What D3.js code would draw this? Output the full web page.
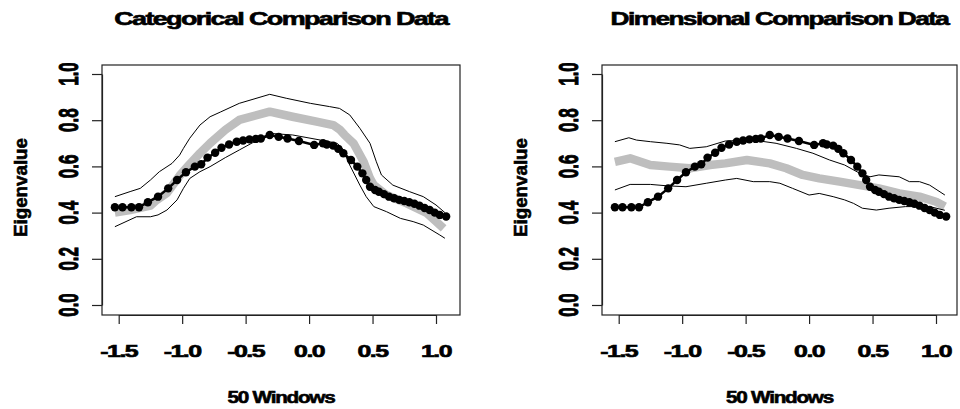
<!DOCTYPE html>
<html>
<head>
<meta charset="utf-8">
<script src="https://cdn.jsdelivr.net/npm/d3@7"></script>
<style>
body{margin:0;background:#fff;}
svg text{font-family:"Liberation Sans",Arial,sans-serif;font-weight:bold;fill:#000;stroke:#000;stroke-width:0.6px;}
</style>
</head>
<body>
<svg id="chart" width="960" height="409"></svg>
<script>
// 50 windows: x position and observed eigenvalue (same in both panels)
var windowX = [-1.53,-1.47,-1.40,-1.34,-1.27,-1.19,-1.11,-1.04,-0.97,-0.90,
    -0.85,-0.80,-0.74,-0.69,-0.63,-0.57,-0.52,-0.47,-0.42,-0.38,
    -0.31,-0.24,-0.17,-0.08,0.04,0.11,0.14,0.19,0.23,0.27,
    0.33,0.38,0.42,0.45,0.48,0.52,0.55,0.59,0.63,0.67,
    0.71,0.75,0.79,0.83,0.87,0.91,0.95,0.99,1.03,1.08];
var observed = [0.423,0.423,0.423,0.423,0.445,0.469,0.505,0.541,0.575,0.599,
    0.609,0.638,0.659,0.681,0.695,0.707,0.712,0.717,0.719,0.721,
    0.736,0.728,0.721,0.710,0.693,0.700,0.695,0.690,0.676,0.657,
    0.628,0.599,0.570,0.541,0.512,0.498,0.490,0.480,0.469,0.462,
    0.455,0.450,0.445,0.438,0.430,0.420,0.411,0.400,0.390,0.383];

// categorical comparison: mean (grey band) and upper / lower bounds
var catMean = [[-1.53,0.400],[-1.41,0.411],[-1.25,0.430],[-1.20,0.455],[-1.12,0.485],[-1.02,0.560],
    [-0.94,0.610],[-0.86,0.657],[-0.78,0.700],[-0.66,0.758],[-0.55,0.801],[-0.31,0.837],
    [-0.13,0.815],[0.06,0.794],[0.19,0.779],[0.24,0.760],[0.28,0.736],[0.35,0.700],
    [0.43,0.620],[0.48,0.548],[0.51,0.519],[0.61,0.476],[0.77,0.440],[0.93,0.397],[1.06,0.332]];
var catUpper = [[-1.53,0.469],[-1.41,0.491],[-1.33,0.505],[-1.25,0.541],[-1.18,0.577],[-1.08,0.613],
    [-1.02,0.649],[-0.99,0.678],[-0.94,0.722],[-0.86,0.779],[-0.78,0.815],[-0.70,0.835],
    [-0.55,0.873],[-0.31,0.912],[-0.18,0.895],[0.01,0.873],[0.16,0.859],[0.24,0.851],
    [0.32,0.823],[0.40,0.765],[0.48,0.700],[0.53,0.620],[0.57,0.563],[0.66,0.519],
    [0.79,0.491],[0.90,0.469],[1.00,0.433],[1.07,0.400]];
var catLower = [[-1.53,0.339],[-1.36,0.382],[-1.25,0.382],[-1.19,0.390],[-1.12,0.411],[-1.04,0.455],
    [-0.99,0.505],[-0.94,0.548],[-0.86,0.577],[-0.78,0.599],[-0.66,0.638],[-0.55,0.671],
    [-0.31,0.743],[-0.13,0.736],[0.09,0.714],[0.22,0.700],[0.26,0.680],[0.32,0.606],
    [0.40,0.519],[0.45,0.469],[0.51,0.426],[0.61,0.404],[0.72,0.375],[0.82,0.361],
    [0.90,0.346],[1.03,0.303],[1.07,0.289]];

// dimensional comparison
var dimMean = [[-1.53,0.620],[-1.41,0.635],[-1.25,0.606],[-1.10,0.599],[-0.94,0.592],[-0.78,0.606],
    [-0.66,0.613],[-0.49,0.628],[-0.31,0.613],[-0.18,0.592],[-0.05,0.563],[0.08,0.548],
    [0.24,0.534],[0.40,0.519],[0.55,0.505],[0.71,0.483],[0.87,0.469],[1.00,0.447],[1.07,0.426]];
var dimUpper = [[-1.53,0.707],[-1.42,0.724],[-1.36,0.714],[-1.25,0.707],[-1.12,0.700],[-1.02,0.693],
    [-0.94,0.678],[-0.81,0.685],[-0.66,0.710],[-0.44,0.714],[-0.26,0.700],[-0.10,0.678],
    [0.03,0.657],[0.16,0.628],[0.28,0.606],[0.40,0.570],[0.48,0.555],[0.55,0.563],
    [0.71,0.555],[0.79,0.534],[0.87,0.534],[0.95,0.519],[1.07,0.476]];
var dimLower = [[-1.53,0.498],[-1.41,0.522],[-1.25,0.522],[-1.12,0.516],[-0.97,0.512],[-0.81,0.527],
    [-0.66,0.541],[-0.57,0.548],[-0.44,0.534],[-0.31,0.534],[-0.23,0.527],[-0.13,0.505],
    [0.00,0.476],[0.08,0.483],[0.19,0.469],[0.28,0.455],[0.35,0.440],[0.42,0.419],
    [0.53,0.411],[0.63,0.419],[0.76,0.426],[0.84,0.426],[0.95,0.426],[1.07,0.410]];

var xTicks = [-1.5,-1.0,-0.5,0.0,0.5,1.0];
var yTicks = [0.0,0.2,0.4,0.6,0.8,1.0];
var titles = ["Categorical Comparison Data","Dimensional Comparison Data"];
var xLabel = "50 Windows";
var yLabel = "Eigenvalue";

var svg = d3.select("#chart");
svg.append("rect").attr("width",960).attr("height",409).attr("fill","#fff");

var observedPts = windowX.map(function(x,i){ return [x,observed[i]]; });

drawPanel({ox:0, boxR:460, title:titles[0], titleLen:334, mean:catMean, upper:catUpper, lower:catLower});
drawPanel({ox:500, boxR:957, title:titles[1], titleLen:338, mean:dimMean, upper:dimUpper, lower:dimLower});

/**
 * horizontal text stretched to a given width (the original picture is stretched sideways)
 */
function wideText(g, cx, baseY, size, width, str){
    var t = g.append("text")
        .attr("text-anchor","middle")
        .style("font-size",size+"px")
        .style("letter-spacing","-0.06em")
        .text(str);
    var len = t.node().getComputedTextLength();
    t.attr("transform","translate("+cx+","+baseY+") scale("+(width/len)+",1)");
    return t;
}

/**
 * draw one panel (box, axes, grey band, bounds, observed dots)
 */
function drawPanel(p){
    var ox = p.ox;
    var top = 65, bottom = 315, left = 102 + ox;
    var x = d3.scaleLinear().domain([-1.5,1.0]).range([118.7+ox,436+ox]);
    var y = d3.scaleLinear().domain([0,1]).range([305,74]);
    var g = svg.append("g");

    var line = d3.line()
        .x(function(d){ return x(d[0]); })
        .y(function(d){ return y(d[1]); });

    g.append("path")
        .attr("d",line(p.mean))
        .attr("fill","none")
        .attr("stroke","#bebebe")
        .attr("stroke-width",8.5)
        .attr("stroke-linejoin","round");

    [p.upper,p.lower].forEach(function(s){
        g.append("path")
            .attr("d",line(s))
            .attr("fill","none")
            .attr("stroke","#000")
            .attr("stroke-width",1);
    });

    g.append("path")
        .attr("d",line(observedPts))
        .attr("fill","none")
        .attr("stroke","#000")
        .attr("stroke-width",2.5);
    g.selectAll("circle.obs")
        .data(observedPts)
        .enter().append("circle")
        .classed("obs",true)
        .attr("cx",function(d){ return x(d[0]); })
        .attr("cy",function(d){ return y(d[1]); })
        .attr("r",4.2)
        .attr("fill","#000");

    // box
    g.append("rect")
        .attr("x",left).attr("y",top)
        .attr("width",p.boxR-left).attr("height",bottom-top)
        .attr("fill","none").attr("stroke","#222").attr("stroke-width",1.2);

    // axes (tick marks only, labels drawn below)
    var xa = g.append("g").attr("transform","translate(0,"+bottom+")")
        .call(d3.axisBottom(x).tickValues(xTicks).tickSize(9).tickSizeOuter(0).tickFormat(""));
    var ya = g.append("g").attr("transform","translate("+left+",0)")
        .call(d3.axisLeft(y).tickValues(yTicks).tickSize(10).tickSizeOuter(0).tickFormat(""));
    [xa,ya].forEach(function(a){
        a.selectAll("line").attr("stroke","#222").attr("stroke-width",1.2);
        a.select(".domain").attr("stroke","#222").attr("stroke-width",1.2);
    });

    xTicks.forEach(function(d){
        var s = d.toFixed(1);
        wideText(g, x(d), 357, 16, s.length > 3 ? 37 : 30, s);
    });

    g.selectAll("text.yt")
        .data(yTicks)
        .enter().append("text")
        .classed("yt",true)
        .attr("transform",function(d){ return "translate("+(78+ox)+","+y(d)+") rotate(-90) scale(1,1.64)"; })
        .attr("text-anchor","middle")
        .style("font-size","17px")
        .text(function(d){ return d.toFixed(1); });

    // titles
    var cx = (left + p.boxR)/2;
    wideText(g, cx, 25, 18, p.titleLen, p.title);
    wideText(g, cx, 403, 17, 107, xLabel);
    g.append("text")
        .attr("transform","translate("+(27+ox)+",187.5) rotate(-90)")
        .attr("text-anchor","middle")
        .attr("textLength",99)
        .attr("lengthAdjust","spacingAndGlyphs")
        .style("font-size","18px")
        .text(yLabel);
}
</script>
</body>
</html>
